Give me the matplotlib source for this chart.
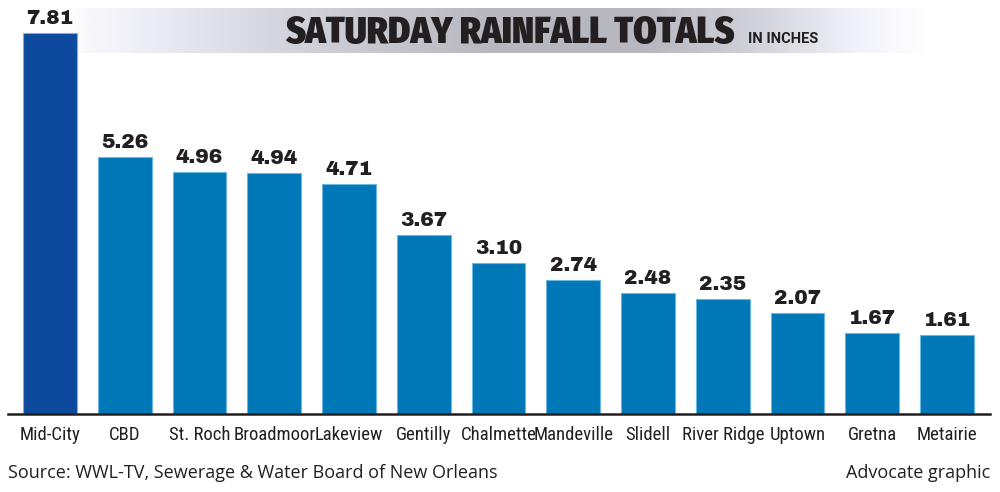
import matplotlib.pyplot as plt
import numpy as np
from matplotlib.colors import LinearSegmentedColormap

# data
places = ["Mid-City", "CBD", "St. Roch", "Broadmoor", "Lakeview", "Gentilly",
          "Chalmette", "Mandeville", "Slidell", "River Ridge", "Uptown",
          "Gretna", "Metairie"]
rain = [7.81, 5.26, 4.96, 4.94, 4.71, 3.67, 3.10, 2.74, 2.48, 2.35, 2.07, 1.67, 1.61]

title = "SATURDAY RAINFALL TOTALS"
unit = "IN INCHES"
source = "Source: WWL-TV, Sewerage & Water Board of New Orleans"
credit = "Advocate graphic"

ink = "#231f20"
heavy = ["Fira Sans Condensed", "DejaVu Sans"]
cond = ["Roboto Condensed", "DejaVu Sans"]
black = ["Archivo Black", "DejaVu Sans"]
plain = ["Open Sans", "DejaVu Sans"]

fig = plt.figure(figsize=(10, 4.92), dpi=100)

# background layer in pixel coords for the title band and footer
bg = fig.add_axes([0, 0, 1, 1], zorder=0)
bg.set_xlim(0, 1000)
bg.set_ylim(492, 0)
bg.axis("off")

stops = [(0.0, 1.0), (0.1, 0.93), (0.28, 0.82), (0.5, 0.72), (0.68, 0.72),
         (0.8, 0.82), (0.92, 0.95), (1.0, 1.0)]
cmap = LinearSegmentedColormap.from_list(
    "band", [(p, (v, v, min(1.0, v + 0.035))) for p, v in stops])
grad = np.linspace(0, 1, 512).reshape(1, -1)
bg.imshow(grad, cmap=cmap, extent=[55, 930, 53, 8], aspect="auto", zorder=0)
bg.text(735, 43, title, ha="right", va="baseline", fontsize=27, fontweight="black",
        family=heavy, color=ink)
bg.text(748, 43, unit, ha="left", va="baseline", fontsize=10.5, fontweight="bold",
        family=["Roboto", "DejaVu Sans"], color=ink)
bg.text(8, 478, source, ha="left", va="baseline", fontsize=13, family=plain, color=ink)
bg.text(990, 478, credit, ha="right", va="baseline", fontsize=13, family=plain, color=ink)

# bars
ax = fig.add_axes([0.008, 1 - 414 / 492, 0.982, 414 / 492], zorder=1)
ax.patch.set_alpha(0)
x = np.arange(len(places))
colors = ["#0d4a9e"] + ["#0077b6"] * (len(places) - 1)
ax.bar(x, rain, width=0.72, color=colors, edgecolor="#6cb6e2", linewidth=0.8)
for xi, v in zip(x, rain):
    ax.text(xi, v + 0.185, f"{v:.2f}", ha="center", va="baseline", fontsize=14.5,
            family=black, color=ink)

ax.set_xlim(-0.562, 12.575)
ax.set_ylim(0, 414 / 48.78)
ax.set_xticks(x)
ax.set_xticklabels(places, family=cond, fontsize=13.5, color=ink)
ax.tick_params(axis="x", length=0, pad=9)
ax.set_yticks([])
for s in ["top", "right", "left"]:
    ax.spines[s].set_visible(False)
ax.spines["bottom"].set_color(ink)
ax.spines["bottom"].set_linewidth(1.8)

fig.savefig("out.png", dpi=100)
